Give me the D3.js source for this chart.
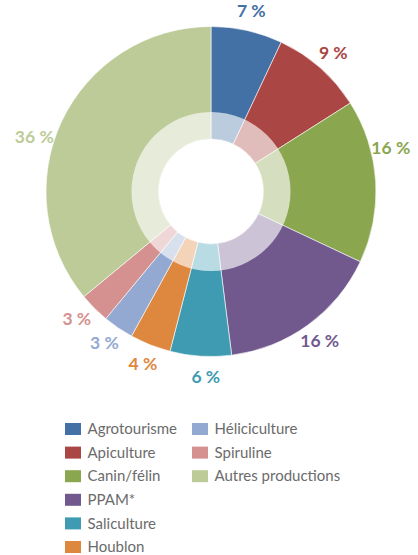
<!DOCTYPE html>
<html>
<head>
<meta charset="utf-8">
<script src="https://cdn.jsdelivr.net/npm/d3@7"></script>
<style>
  html, body { margin: 0; padding: 0; background: #ffffff; }
  svg { display: block; }
</style>
</head>
<body>
<svg id="chart" width="418" height="555"></svg>
<script>
// Répartition des productions
const categories = ["Agrotourisme", "Apiculture", "Canin/félin", "PPAM*", "Saliculture", "Houblon", "Héliciculture", "Spiruline", "Autres productions"];
const shares = [7, 9, 16, 16, 6, 4, 3, 3, 36];
const palette = ["#4471a5", "#aa4644", "#8aa64e", "#71598e", "#3f9bb1", "#de873e", "#94a9d1", "#d49190", "#bccb98"];

const svg = d3.select("#chart");
const cx = 211, cy = 191.5;
const rOuter = 165, rRing = 79.5, rHole = 52.5;

const pie = d3.pie().value(d => d.v).sort(null);
const rows = categories.map((c, i) => ({ c, v: shares[i], col: palette[i] }));
const arcs = pie(rows);

const g = svg.append("g").attr("transform", `translate(${cx},${cy})`);

const outerArc = d3.arc().innerRadius(rHole).outerRadius(rOuter);
g.selectAll("path.slice")
  .data(arcs)
  .join("path")
  .attr("class", "slice")
  .attr("d", outerArc)
  .attr("fill", d => d.data.col)
  .attr("stroke", "#ffffff")
  .attr("stroke-width", 0.6);

// Light inner band: a translucent white ring over the slices
g.append("path")
  .attr("d", d3.arc().innerRadius(rHole).outerRadius(rRing).startAngle(0).endAngle(2 * Math.PI)())
  .attr("fill", "#ffffff")
  .attr("fill-opacity", 0.64);

// Percentage labels around the ring
const nudge = [0, 0, -10, 0, -2, 0, 1, 1.5, -8]; // degrees, keeps labels clear of neighbours
const rLabel = 185;
g.selectAll("text.pct")
  .data(arcs)
  .join("text")
  .attr("class", "pct")
  .attr("x", (d, i) => rLabel * Math.sin((d.startAngle + d.endAngle) / 2 + nudge[i] * Math.PI / 180))
  .attr("y", (d, i) => -rLabel * Math.cos((d.startAngle + d.endAngle) / 2 + nudge[i] * Math.PI / 180))
  .attr("text-anchor", "middle")
  .attr("dy", "0.36em")
  .attr("font-family", "Lato, 'Open Sans', sans-serif")
  .attr("font-weight", 700)
  .attr("font-size", 17.5)
  .attr("fill", d => d.data.col)
  .text(d => `${d.data.v} %`);

// Legend: two columns
const colX = [65, 192];
const rowY0 = 429, rowStep = 23.6;
const perCol = 6;
const legend = svg.append("g");
rows.forEach((d, i) => {
  const col = i < perCol ? 0 : 1;
  const row = i < perCol ? i : i - perCol;
  const y = rowY0 + row * rowStep;
  legend.append("rect")
    .attr("x", colX[col]).attr("y", y - 6)
    .attr("width", 16).attr("height", 12)
    .attr("fill", d.col);
  legend.append("text")
    .attr("x", colX[col] + 22.5).attr("y", y)
    .attr("dy", "0.35em")
    .attr("font-family", "Lato, 'Open Sans', sans-serif")
    .attr("font-size", 15)
    .attr("fill", "#6b6b6b")
    .text(d.c);
});
</script>
</body>
</html>
